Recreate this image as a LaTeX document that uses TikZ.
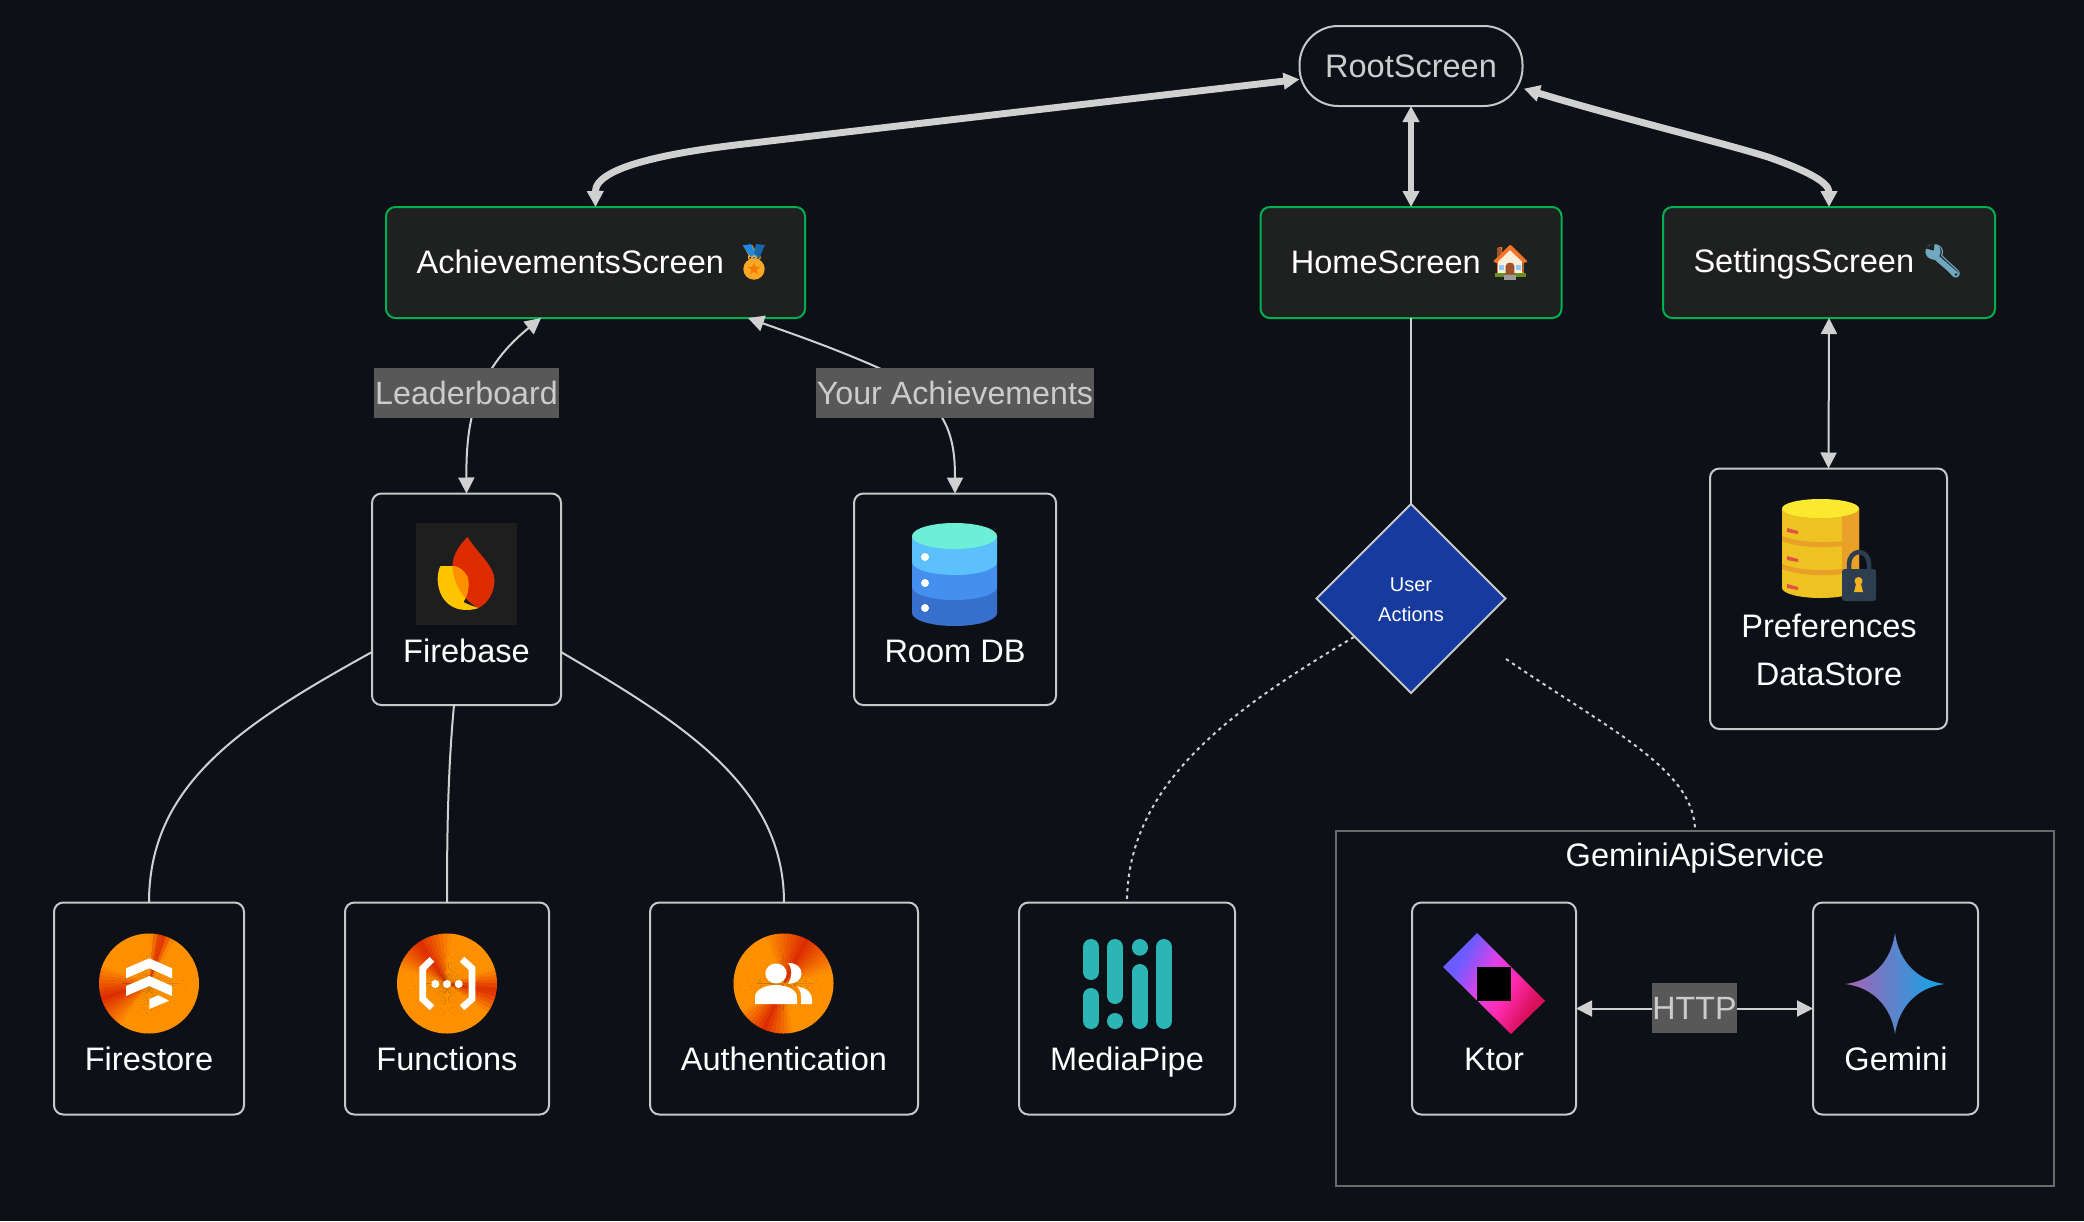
\documentclass[tikz,border=0pt]{standalone}
\usepackage{fontspec}
\setmainfont{Liberation Sans}
\newfontfamily\emojifont{Noto Emoji}
\usetikzlibrary{arrows.meta,shapes.geometric,calc}
\definecolor{bgc}{HTML}{0D1117}
\definecolor{linec}{HTML}{D0D0D0}
\definecolor{boxline}{HTML}{C8C8C8}
\definecolor{scrfill}{HTML}{1F2020}
\definecolor{scrline}{HTML}{00B050}
\definecolor{diafill}{HTML}{163A9E}
\definecolor{labfill}{HTML}{585858}
\definecolor{labtext}{HTML}{CCCCCC}
\definecolor{fbred}{HTML}{DD2C00}
\definecolor{fborg}{HTML}{FF9100}
\definecolor{fbyel}{HTML}{FFC400}
\definecolor{fbbg}{HTML}{1E1E1E}
\definecolor{mpteal}{HTML}{2BB5B5}
\definecolor{clusterline}{HTML}{6A6A6A}
\definecolor{gmA}{HTML}{9A68B8}
\definecolor{gmB}{HTML}{1BA1E3}
\definecolor{ktA}{HTML}{6C5CFF}
\definecolor{ktB}{HTML}{E040E8}
\definecolor{ktC}{HTML}{FF2BB0}
\definecolor{ktD}{HTML}{D8105A}
\definecolor{dbA}{HTML}{3670CC}
\definecolor{dbB}{HTML}{458FEF}
\definecolor{dbC}{HTML}{5BC0FB}
\definecolor{dbD}{HTML}{6CEFD6}
\definecolor{prY}{HTML}{EEC220}
\definecolor{prO}{HTML}{E8A028}
\definecolor{prT}{HTML}{FBE92F}
\definecolor{prR}{HTML}{E05046}
\definecolor{prL}{HTML}{2C3E50}
\definecolor{prK}{HTML}{F3B320}
\definecolor{emGold}{HTML}{F9A825}
\definecolor{emStar}{HTML}{F57C00}
\definecolor{emBlue}{HTML}{1E88E5}
\definecolor{emRoof}{HTML}{F4742B}
\definecolor{emWall}{HTML}{FBEFD9}
\definecolor{emDoor}{HTML}{A0522D}
\definecolor{emWin}{HTML}{90CAF9}
\definecolor{emGrass}{HTML}{6B8E23}
\definecolor{emStep}{HTML}{9E9E9E}
\definecolor{emWrench}{HTML}{6FA8BF}
\pgfdeclarehorizontalshading{ktshade}{100bp}{color(0bp)=(ktA);color(30bp)=(ktA);color(45bp)=(ktB);color(58bp)=(ktC);color(72bp)=(ktD);color(100bp)=(ktD)}
\pgfdeclarehorizontalshading{gmshade}{100bp}{color(0bp)=(gmA);color(30bp)=(gmA);color(70bp)=(gmB);color(100bp)=(gmB)}
\tikzset{
  every node/.style={text=white,font=\fontsize{24.4}{36}\selectfont,inner sep=0pt,outer sep=0pt},
  boxn/.style={draw=boxline,line width=1.5pt,rounded corners=7pt,fill=bgc},
  scrn/.style={draw=scrline,line width=1.5pt,rounded corners=7pt,fill=scrfill},
  rootn/.style={draw=boxline,line width=1.5pt,rounded corners=29pt,fill=bgc,text=labtext},
  dian/.style={draw=boxline,line width=1.5pt,shape=diamond,fill=diafill},
  dialab/.style={align=center,font=\fontsize{15}{22.4}\selectfont},
  labn/.style={fill=labfill,text=labtext,font=\fontsize{24.15}{36}\selectfont},
  clustern/.style={draw=clusterline,line width=1.2pt,fill=bgc},
  capt/.style={anchor=base},
  capttwo/.style={align=center},
  thick edge/.style={draw=linec,line width=5.2pt,{Triangle[length=12pt,width=12pt]}-{Triangle[length=12pt,width=12pt]}},
  thin arrow/.style={draw=linec,line width=1.5pt,{Triangle[length=12pt,width=12pt]}-{Triangle[length=12pt,width=12pt]}},
  plain edge/.style={draw=linec,line width=1.5pt},
  dot edge/.style={draw=linec,line width=1.5pt,dash pattern=on 2.5pt off 3pt},
}
% name x1 y1 x2 y2
\newcommand\bx[6][boxn]{\node[#1,minimum width={(#5-#3)*0.75pt},minimum height={(#6-#4)*0.75pt}] (#2) at ({(#3+#5)/2},{(#4+#6)/2}) {};}
% conic-gradient disc: cx cy r p1 w1 p2 w2
\newcommand\conicdisc[7]{%
  \begin{scope}
    \clip (#1,#2) circle[radius=#3];
    \foreach \a in {0,5,...,355}{%
      \pgfmathsetmacro\mA{max(0,100-abs(mod(\a-#4+540,360)-180)/#5*100)}%
      \pgfmathsetmacro\mB{max(0,100-abs(mod(\a-#6+540,360)-180)/#7*100)}%
      \pgfmathsetmacro\mm{max(\mA,\mB)}%
      \pgfmathsetmacro\aend{\a+5.5}%
      \fill[fbred!\mm!fborg] (#1,#2) -- ++(-\a:#3*1.2) -- ($(#1,#2)+(-\aend:#3*1.2)$) -- cycle;
    }
  \end{scope}}
\begin{document}
\begin{tikzpicture}[x=0.75pt,y=-0.75pt]
\useasboundingbox (0,0) rectangle (2084,1221);
\fill[bgc] (0,0) rectangle (2084,1221);

% cluster
\bx[clustern]{gemcluster}{1336}{831}{2054}{1186}
\node (gemtitle) at (1695,858.5) {GeminiApiService};

% boxes
\node[rootn,minimum width={223*0.75pt},minimum height={80*0.75pt}] (root) at (1411,66) {RootScreen};
\node[scrn,minimum width={419*0.75pt},minimum height={111*0.75pt}] (ach) at (595.5,262.5) {AchievementsScreen {\emojifont\textcolor{emGold}{🏅}}};
\node[scrn,minimum width={301*0.75pt},minimum height={111*0.75pt}] (home) at (1411,262.5) {HomeScreen {\emojifont\textcolor{emRoof}{🏠}}};
\node[scrn,minimum width={332*0.75pt},minimum height={111*0.75pt}] (settings) at (1829,262.5) {SettingsScreen {\emojifont\textcolor{emWrench}{🔧}}};
\bx{firebase}{372}{493.5}{561}{705}
\bx{room}{854}{493.5}{1056}{705}
\bx{prefs}{1710}{468.5}{1947}{729}
\node[dian,minimum width={189*0.75pt},minimum height={189*0.75pt}] (actions) at (1411,598.5) {};
\node[dialab] (tactions) at (1411,600) {User\\Actions};
\bx{firestore}{54}{902.5}{244}{1114.5}
\bx{functions}{345}{902.5}{549}{1114.5}
\bx{auth}{650}{902.5}{918}{1114.5}
\bx{mediapipe}{1019}{902.5}{1235}{1114.5}
\bx{ktor}{1412}{902.5}{1576}{1114.5}
\bx{gemini}{1813}{902.5}{1978}{1114.5}

\coordinate (dmL) at (1354,637);
\coordinate (dmR) at (1506,659);
\coordinate (fbW) at (372,652);
\coordinate (fbE) at (561,652);
\coordinate (fbS) at (454,705);

% connectors
\draw[thick edge] ([yshift=-10pt]root.west) .. controls (1180,93) and (860,130.4) .. (744,144) .. controls (675,152) and (595,166) .. (ach.north);
\draw[thick edge] (root.south) -- (home.north);
\draw[thick edge] ([yshift=-17pt,xshift=1pt]root.east) .. controls (1620,118) and (1720,142) .. (1768,157) .. controls (1805,170) and (1829,182) .. (settings.north);
\draw[thin arrow] (firebase.north) .. controls (466,425) and (473,373) .. (541,318);
\draw[thin arrow] (room.north) .. controls (955,430) and (945,395) .. (865,362) .. controls (825,345) and (790,333) .. (748,318);
\draw[plain edge] (home.south) -- (actions.north);
\draw[thin arrow] (settings.south) -- (prefs.north);
\draw[plain edge] (fbW) .. controls (240,725) and (149,785) .. (firestore.north);
\draw[plain edge] (fbS) .. controls (448,770) and (447,830) .. (functions.north);
\draw[plain edge] (fbE) .. controls (680,722) and (784,785) .. (auth.north);
\draw[dot edge] (dmL) .. controls (1240,705) and (1127,780) .. (mediapipe.north);
\draw[dot edge] (dmR) .. controls (1610,730) and (1695,770) .. (gemcluster.north);
\draw[thin arrow] (ktor.east) -- (gemini.west);

% edge labels
\node[labn,minimum width={185*0.75pt},minimum height={50*0.75pt}] (lblead) at (466.5,393) {Leaderboard};
\node[labn,minimum width={278*0.75pt},minimum height={50*0.75pt}] (lbach) at (955,393) {Your Achievements};
\node[labn,minimum width={85*0.75pt},minimum height={50*0.75pt}] (lbhttp) at (1694.5,1008) {HTTP};

% captions
\node[capt] (tfirebase) at (466.5,662) {Firebase};
\node[capt] (troom) at (955,662) {Room DB};
\node[capttwo] (tprefs) at (1829,649.5) {Preferences\\DataStore};
\node[capt] (tfirestore) at (149,1070.5) {Firestore};
\node[capt] (tfunctions) at (447,1070.5) {Functions};
\node[capt] (tauth) at (784,1070.5) {Authentication};
\node[capt] (tmedia) at (1127,1070.5) {MediaPipe};
\node[capt] (tktor) at (1494,1070.5) {Ktor};
\node[capt] (tgemini) at (1896,1070.5) {Gemini};

% medal colouring
\fill[emBlue] (742.7,245.7) -- (750.7,244) -- (758.3,257.7) -- (752.7,259) -- cycle;
\fill[emBlue!75!black] (756,244) -- (765,245) -- (759.3,257.7) -- (754,253) -- cycle;
\draw[emGold,line width=1pt] (754,258.3) circle[radius=2.4];
\fill[emGold] (754,269) circle[radius=10.7];
\fill[emStar] (754,262.5) -- (755.6,266.8) -- (760.2,267) -- (756.6,269.8) -- (757.8,274.3) -- (754,271.7) -- (750.2,274.3) -- (751.4,269.8) -- (747.8,267) -- (752.4,266.8) -- cycle;

% house colouring
\fill[emDoor] (1496.7,247.7) rectangle (1501,258);
\fill[emWall] (1498,260) -- (1510,249) -- (1522,260) -- (1522,273.5) -- (1498,273.5) -- cycle;
\fill[emRoof] (1510,245) -- (1526,261) -- (1523.5,263) -- (1510,250) -- (1496.5,263) -- (1494,261) -- cycle;
\fill[emWin] (1499,265) rectangle (1504,270);
\fill[emWin] (1516,265) rectangle (1521,270);
\fill[emGrass] (1495,273) rectangle (1525.7,277);
\fill[emDoor] (1505.7,274.5) -- (1505.7,266) .. controls (1505.7,261.5) and (1514.3,261.5) .. (1514.3,266) -- (1514.3,274.5) -- cycle;
\fill[emStep] (1504.3,274.5) rectangle (1515.7,280);

% wrench colouring
\draw[emWrench,line width=4.2pt,line cap=round] (1937,258) -- (1956,274.5);
\fill[emWrench] (1933,251.7) circle[radius=7.6];
\fill[scrfill] (1925,248.3) -- (1934.7,242.3) -- (1933.7,250.5) -- cycle;
\fill[scrfill] (1956,274.5) circle[radius=1.4];

% Firebase icon
\begin{scope}[shift={(466.5,574)}]
  \fill[fbbg] (-50.5,-51) rectangle (50.5,51);
  \fill[fbred] (1,-37) .. controls (10,-22) and (28,-8) .. (28,6) .. controls (28,20) and (20,30) .. (12,34) .. controls (-6,25) and (-14,5) .. (-14,-8) .. controls (-14,-20) and (-6,-30) .. (1,-37) -- cycle;
  \fill[fbyel] (-26,-8) .. controls (-33,5) and (-28,36) .. (0,36) .. controls (5,36) and (9,35) .. (12,34) .. controls (6,32) and (0,30) .. (-3,28) .. controls (2,20) and (3,10) .. (1,3) .. controls (-2,-3) and (-8,-8) .. (-14,-8) -- cycle;
  \begin{scope}
    \clip (-26,-8) .. controls (-33,5) and (-28,36) .. (0,36) .. controls (5,36) and (9,35) .. (12,34) .. controls (6,32) and (0,30) .. (-3,28) .. controls (2,20) and (3,10) .. (1,3) .. controls (-2,-3) and (-8,-8) .. (-14,-8) -- cycle;
    \fill[fborg] (1,-37) .. controls (10,-22) and (28,-8) .. (28,6) .. controls (28,20) and (20,30) .. (12,34) .. controls (-6,25) and (-14,5) .. (-14,-8) .. controls (-14,-20) and (-6,-30) .. (1,-37) -- cycle;
  \end{scope}
\end{scope}

% Room DB icon
\begin{scope}[shift={(954.5,0)}]
  \fill[dbA] (-42.5,587) -- (-42.5,613) arc[x radius=42.5,y radius=13,start angle=180,end angle=0] -- (42.5,587) -- cycle;
  \fill[dbB] (-42.5,562) -- (-42.5,587) arc[x radius=42.5,y radius=13,start angle=180,end angle=0] -- (42.5,562) -- cycle;
  \fill[dbC] (-42.5,536) -- (-42.5,562) arc[x radius=42.5,y radius=13,start angle=180,end angle=0] -- (42.5,536) -- cycle;
  \fill[dbD] (0,536) ellipse[x radius=42.5,y radius=13];
  \foreach \dy in {557,583,608} \fill[white] (-29.5,\dy) circle[radius=4];
\end{scope}

% Preferences icon
\fill[prY] (1782,508) -- (1782,588) arc[x radius=38.5,y radius=10,start angle=180,end angle=0] -- (1859,508) -- cycle;
\fill[prO] (1842,508) -- (1842,596) -- (1859,588) -- (1859,508) -- cycle;
\fill[prO] (1782,536) .. controls (1800,543) and (1825,543) .. (1842,541) -- (1842,546) .. controls (1825,548) and (1800,548) .. (1782,541) -- cycle;
\fill[prO] (1782,564) .. controls (1800,571) and (1825,571) .. (1842,569) -- (1842,574) .. controls (1825,576) and (1800,576) .. (1782,569) -- cycle;
\fill[prT] (1820.5,508.5) ellipse[x radius=38.5,y radius=9.5];
\foreach \dy in {531,559,587} \fill[prR] (1787,\dy-3) -- (1798,\dy) -- (1798,\dy+3) -- (1787,\dy+1) -- cycle;
\draw[prL,line width=3.4pt] (1849,572) -- (1849,564) arc[x radius=10,y radius=12,start angle=180,end angle=360] -- (1869,572);
\fill[prL,rounded corners=2pt] (1842,569) rectangle (1876,601);
\fill[prK] (1858.5,581) circle[radius=4];
\fill[prK] (1856,584) -- (1861,584) -- (1863,592) -- (1854,592) -- cycle;

% Firestore icon
\conicdisc{149}{983.5}{50}{195}{40}{72}{14}
\fill[white] (126,968.3) -- (149.3,958.3) -- (172,968.3) -- (172,978.3) -- (149.3,968.3) -- (126,978.3) -- cycle;
\fill[white] (126,986) -- (149.3,976) -- (172,986) -- (172,996) -- (149.3,986) -- (126,996) -- cycle;
\fill[white] (149.3,999) -- (158.3,995.3) -- (169,1000.7) -- (149.3,1009) -- cycle;

% Functions icon
\conicdisc{447}{983.5}{50}{122}{40}{-12}{28}
\draw[white,line width=5pt] (432,959.3) -- (422.7,968.3) -- (422.7,999) -- (432,1007.7);
\draw[white,line width=5pt] (462,959.3) -- (472,968.3) -- (472,999) -- (462,1007.7);
\foreach \dx in {435.3,447,458.7} \fill[white] (\dx,984) circle[radius=4];

% Authentication icon
\conicdisc{783.5}{983.5}{50}{60}{50}{-115}{35}
\fill[white] (776,973.5) ellipse[x radius=10.7,y radius=10];
\fill[white] (788,963) .. controls (806,962) and (806,985) .. (788,983.5) .. controls (792.5,977) and (792.5,969) .. (788,963) -- cycle;
\fill[white] (755,1004) -- (755,997) .. controls (755,990) and (765,985) .. (776,985) .. controls (787,985) and (797,990) .. (797,997) -- (797,1004) -- cycle;
\fill[white] (797,986.5) .. controls (807,988) and (812,993) .. (812,999) -- (812,1004) -- (801,1004) -- (801,997) .. controls (801,993) and (800,989) .. (797,986.5) -- cycle;

% MediaPipe icon
\foreach \xa/\ya/\yb in {1091/947/972,1091/996/1021,1115/947/996,1115/1021/1021.01,1139.5/947/947.7,1139.5/972/1021,1164/947/1021}
  \draw[mpteal,line width=12pt,line cap=round] (\xa,\ya) -- (\xa,\yb);

% Ktor icon
\shade[shading=ktshade,shading angle=-30] (1477,933) -- (1545,1001) -- (1511,1034) -- (1443,967) -- cycle;
\fill[black] (1477,967) rectangle (1511,1001);

% Gemini icon
\shade[shading=gmshade,shading angle=0] (1895,933) .. controls (1899,962) and (1918,981) .. (1945,984) .. controls (1918,987) and (1899,1006) .. (1895,1034) .. controls (1891,1006) and (1872,987) .. (1845,984) .. controls (1872,981) and (1891,962) .. (1895,933) -- cycle;
\end{tikzpicture}
\end{document}
